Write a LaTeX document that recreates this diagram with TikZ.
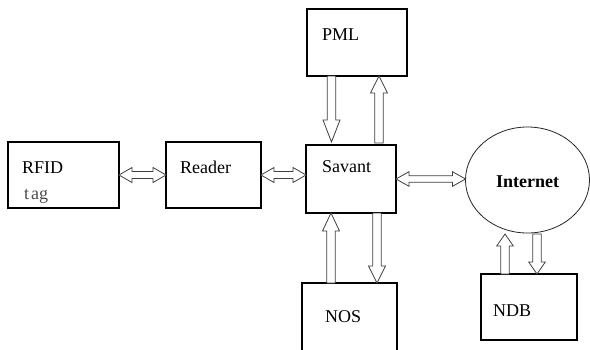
\documentclass[tikz,border=0pt]{standalone}
\usepackage{fontspec}
\setmainfont{Liberation Serif}
\usetikzlibrary{calc,shapes.geometric}
\tikzset{
  box/.style={draw=black, line width=1.3pt, minimum width=#1, inner sep=0pt, outer sep=0pt},
  lbl/.style={anchor=base west, inner sep=0pt, font=\fontsize{18}{20}\selectfont},
  arrowline/.style={draw=black!75, line width=0.8pt, fill=white, line join=miter},
}
% single hollow arrow: #1 start, #2 tip, #3 shaft half width, #4 head half width, #5 head length
\newcommand\hollowsingle[5]{%
  \draw[arrowline] let \p1=#1, \p2=#2, \n1={veclen(\x2-\x1,\y2-\y1)},
    \n2={(\x2-\x1)/\n1}, \n3={(\y2-\y1)/\n1} in
    ({\x1-#3*\n3},{\y1+#3*\n2})
    -- ({\x2-#5*\n2-#3*\n3},{\y2-#5*\n3+#3*\n2})
    -- ({\x2-#5*\n2-#4*\n3},{\y2-#5*\n3+#4*\n2})
    -- (\x2,\y2)
    -- ({\x2-#5*\n2+#4*\n3},{\y2-#5*\n3-#4*\n2})
    -- ({\x2-#5*\n2+#3*\n3},{\y2-#5*\n3-#3*\n2})
    -- ({\x1+#3*\n3},{\y1-#3*\n2}) -- cycle;}
% double hollow arrow
\newcommand\hollowdouble[5]{%
  \draw[arrowline] let \p1=#1, \p2=#2, \n1={veclen(\x2-\x1,\y2-\y1)},
    \n2={(\x2-\x1)/\n1}, \n3={(\y2-\y1)/\n1} in
    (\x1,\y1)
    -- ({\x1+#5*\n2-#4*\n3},{\y1+#5*\n3+#4*\n2})
    -- ({\x1+#5*\n2-#3*\n3},{\y1+#5*\n3+#3*\n2})
    -- ({\x2-#5*\n2-#3*\n3},{\y2-#5*\n3+#3*\n2})
    -- ({\x2-#5*\n2-#4*\n3},{\y2-#5*\n3+#4*\n2})
    -- (\x2,\y2)
    -- ({\x2-#5*\n2+#4*\n3},{\y2-#5*\n3-#4*\n2})
    -- ({\x2-#5*\n2+#3*\n3},{\y2-#5*\n3-#3*\n2})
    -- ({\x1+#5*\n2+#3*\n3},{\y1+#5*\n3-#3*\n2})
    -- ({\x1+#5*\n2+#4*\n3},{\y1+#5*\n3-#4*\n2}) -- cycle;}
\begin{document}
\begin{tikzpicture}[x=1pt, y=-1pt]
\useasboundingbox (0,0) rectangle (590,349);
\fill[white] (0,0) rectangle (590,349);
% boxes
\node[box=111pt, minimum height=66pt] (rfid) at (63.5,175) {};
\node[box=95pt, minimum height=66pt] (reader) at (213.5,175) {};
\node[box=90pt, minimum height=68pt] (savant) at (351,179) {};
\node[box=100pt, minimum height=67pt] (pml) at (357,42.5) {};
\node[draw=black!85, line width=0.8pt, ellipse, minimum width=124pt, minimum height=106pt, inner sep=0pt, outer sep=0pt] (internet) at (527.5,180) {};
\node[box=96pt, minimum height=66pt] (ndb) at (529,307) {};
\begin{scope}
\clip (0,0) rectangle (590,349);
\node[box=95pt, minimum height=74pt] (nos) at (349.5,320) {};
\end{scope}
% labels
\node[lbl] (trfid) at (22,173) {RFID};
\node[lbl, text=black!70] (ttag) at (24,199) {t\kern2pt ag};
\node[lbl] (treader) at (180,173) {Reader};
\node[lbl] (tsavant) at (322,172) {Savant};
\node[lbl] (tpml) at (322,40) {PML};
\node[lbl, font=\fontsize{18}{20}\selectfont\bfseries] (tinternet) at (496,187) {Internet};
\node[lbl] (tnos) at (325,322) {NOS};
\node[lbl] (tndb) at (493,316) {NDB};
% arrows
\hollowdouble{(rfid.east)}{(reader.west)}{3.5}{7.5}{13}
\hollowdouble{(reader.east)}{(savant.west |- reader.east)}{3.5}{7.5}{13}
\hollowdouble{(savant.east)}{(internet.west |- savant.east)}{3.3}{7.3}{13}
\hollowsingle{($(pml.south)+(-25.5,0)$)}{($(savant.north)+(-19.5,-3)$)}{4.2}{8.5}{22}
\hollowsingle{($(savant.north)+(28,-2)$)}{($(pml.south)+(22,0)$)}{4.2}{8.5}{17}
\hollowsingle{($(nos.north)+(-18.5,0)$)}{($(savant.south)+(-20,0)$)}{4.2}{8.5}{18}
\hollowsingle{($(savant.south)+(26,0)$)}{($(nos.north)+(27.5,0)$)}{4.2}{8.5}{17}
\hollowsingle{($(ndb.north)+(-24,0)$)}{($(internet.south)+(-22.5,1)$)}{4.2}{8.3}{12}
\hollowsingle{($(internet.south)+(9.5,1)$)}{($(ndb.north)+(8,0)$)}{4.2}{8.3}{12}
\end{tikzpicture}
\end{document}
